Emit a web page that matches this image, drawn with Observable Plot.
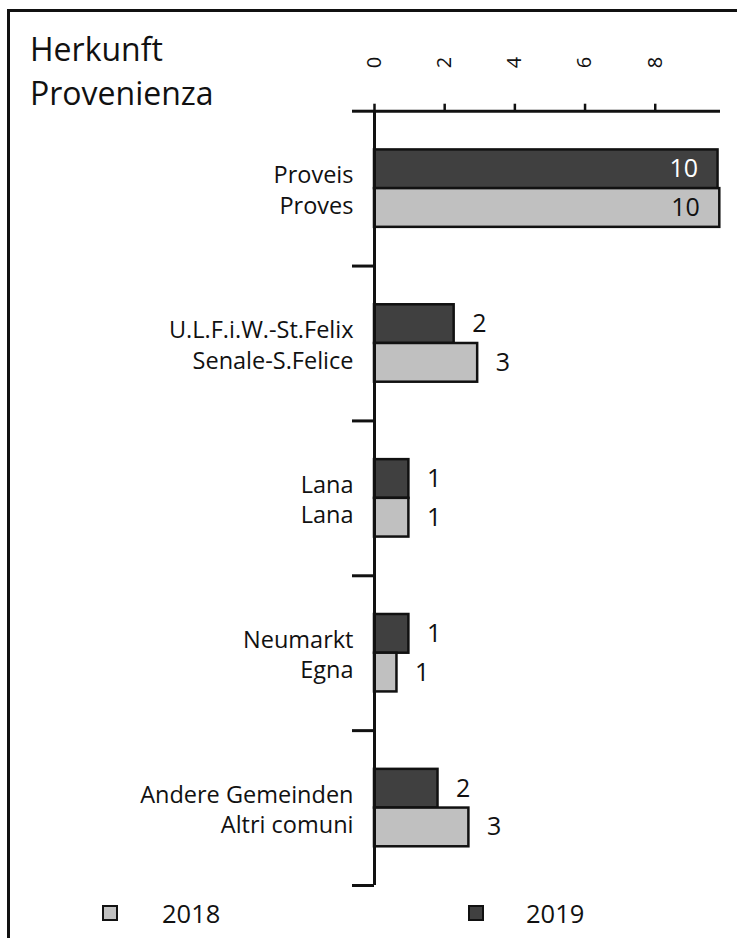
<!DOCTYPE html>
<html>
<head>
<meta charset="utf-8">
<script src="https://cdn.jsdelivr.net/npm/d3@7"></script>
<script src="https://cdn.jsdelivr.net/npm/@observablehq/plot@0.6"></script>
<style>
  html, body { margin: 0; padding: 0; background: #fff; }
  #page { position: relative; width: 737px; height: 938px; overflow: hidden; font-family: "Open Sans", sans-serif; color: #111; }
  #frame { position: absolute; left: 7px; top: 9px; right: -10px; bottom: -10px; border-left: 3px solid #111; border-top: 3px solid #111; }
  #title { position: absolute; left: 30px; top: 27px; font-size: 32px; line-height: 44px; }
  #chart { position: absolute; left: 0; top: 0; }
  .leg { position: absolute; top: 897px; font-size: 25.5px; line-height: 32px; display: flex; align-items: center; }
  .sw { width: 12px; height: 12px; border: 2.5px solid #111; display: inline-block; }
</style>
</head>
<body>
<div id="page">
  <div id="frame"></div>
  <div id="title">Herkunft<br>Provenienza</div>
  <div id="chart"></div>
  <div id="legend"></div>
</div>
<script>
// ---- data ----
const groupsDE = ["Proveis", "U.L.F.i.W.-St.Felix", "Lana", "Neumarkt", "Andere Gemeinden"];
const groupsIT = ["Proves", "Senale-S.Felice", "Lana", "Egna", "Altri comuni"];
const years = ["2019", "2018"];
const values2019 = [9.79, 2.27, 0.98, 0.98, 1.81];
const values2018 = [9.84, 2.94, 0.98, 0.64, 2.69];
const labels2019 = ["10", "2", "1", "1", "2"];
const labels2018 = ["10", "3", "1", "1", "3"];
const xTicks = [0, 2, 4, 6, 8];
const yearColors = {"2019": "#404040", "2018": "#c0c0c0"};
const legendYears = ["2018", "2019"];

// ---- table ----
const rows = [];
groupsDE.forEach((g, i) => {
  years.forEach((yr, j) => {
    const v = yr === "2019" ? values2019[i] : values2018[i];
    const lab = yr === "2019" ? labels2019[i] : labels2018[i];
    rows.push({i, year: yr, value: v, label: lab,
      y1: i + 0.25 + j * 0.25, y2: i + 0.5 + j * 0.25, yc: i + 0.375 + j * 0.25});
  });
});
const groupRows = groupsDE.map((g, i) => ({i, text: g + "\n" + groupsIT[i], yc: i + 0.5}));
const boundaries = d3.range(0, groupsDE.length + 1);

const inside = rows.filter(d => d.value > 8);
const outside = rows.filter(d => d.value <= 8);

const chart = Plot.plot({
  width: 737,
  height: 900,
  marginTop: 110.7,
  marginLeft: 374,
  marginRight: 17,
  marginBottom: 15,
  style: {fontFamily: "Open Sans, sans-serif", fontSize: "23px", color: "#111", background: "transparent"},
  x: {domain: [0, 9.86]},
  y: {domain: [0, groupsDE.length], reverse: true},
  marks: [
    Plot.rectX(rows, {x1: 0, x2: "value", y1: "y1", y2: "y2", fill: d => yearColors[d.year], stroke: "#111", strokeWidth: 2.5}),
    Plot.ruleY([0], {stroke: "#111", strokeWidth: 3}),
    Plot.ruleX([0], {stroke: "#111", strokeWidth: 3}),
    Plot.axisX({anchor: "top", ticks: xTicks, tickSize: 8, tickPadding: 35, tickRotate: -90, fontSize: 20, strokeWidth: 2.5, label: null}),
    Plot.axisY({anchor: "left", ticks: boundaries, tickSize: 22, tickFormat: () => "", strokeWidth: 3, label: null}),
    Plot.text(groupRows, {frameAnchor: "left", y: "yc", text: "text", textAnchor: "end", dx: -21, lineHeight: 1.3, fontSize: 23.5, fill: "#111"}),
    Plot.text(inside, {x: "value", y: "yc", text: "label", textAnchor: "end", dx: -20, fontSize: 25, fill: d => d.year === "2019" ? "#fff" : "#111"}),
    Plot.text(outside, {x: "value", y: "yc", text: "label", textAnchor: "start", dx: 18, fontSize: 25, fill: "#111"})
  ]
});
document.getElementById("chart").appendChild(chart);

// ---- legend ----
const legendPos = {"2018": [102, 162], "2019": [468, 526]};
const leg = document.getElementById("legend");
legendYears.forEach(yr => {
  const [sx, tx] = legendPos[yr];
  const s = document.createElement("div");
  s.className = "sw";
  s.style.position = "absolute"; s.style.left = sx + "px"; s.style.top = "905px";
  s.style.background = yearColors[yr];
  leg.appendChild(s);
  const t = document.createElement("div");
  t.className = "leg";
  t.style.left = tx + "px";
  t.textContent = yr;
  leg.appendChild(t);
});
</script>
</body>
</html>
